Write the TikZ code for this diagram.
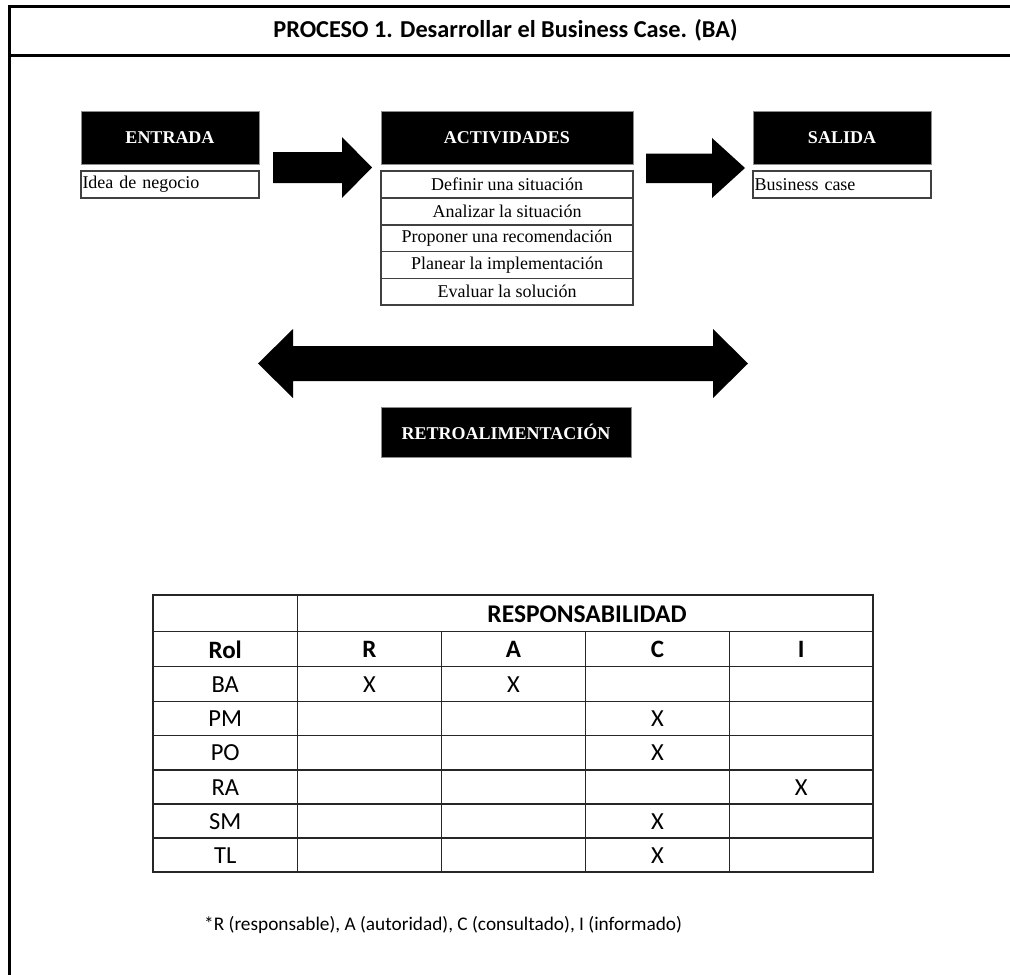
\documentclass[tikz,border=0pt]{standalone}
\usepackage{fontspec}
\setmainfont{Liberation Serif}
\newfontfamily\calfont{Carlito}
\begin{document}
\begin{tikzpicture}[x=1pt,y=-1pt,
  hdrbox/.style={fill=black, draw=black!45, line width=0.8pt, text=white,
    font=\bfseries\fontsize{18}{21}\selectfont, inner sep=0pt, outer sep=0pt,
    minimum height=53pt},
  rowbox/.style={fill=white, draw=black!75, line width=1.5pt, inner sep=0pt,
    outer sep=0pt, font=\fontsize{18}{21}\selectfont, minimum height=26.8pt},
  blockarrow/.style={fill=black},
  frame/.style={line width=3pt, line join=miter},
  grid/.style={line width=1.4pt, draw=black!85},
  th/.style={font=\calfont\bfseries\fontsize{25}{28}\selectfont, inner sep=0pt},
  td/.style={font=\calfont\fontsize{24.5}{28}\selectfont, inner sep=0pt}]
\useasboundingbox (0,0) rectangle (1010,975);

% page frame and title band
\draw[frame] (1010,6.5) -- (9.5,6.5) -- (9.5,975);
\draw[frame] (9.5,55) -- (1010,55);
\node[font=\calfont\bfseries\fontsize{24.3}{28}\selectfont] (title) at (505.5,30.5)
  {PROCESO 1. Desarrollar el Business Case. (BA)};

% input column
\node[hdrbox, minimum width=178pt] (entrada) at (170,137.5) {ENTRADA};
\node[rowbox, minimum width=178pt, text width=175pt, align=left] (idea) at (170,184.5)
  {Idea de negocio};

% activities column
\node[hdrbox, minimum width=252pt] (actividades) at (507,137.5) {ACTIVIDADES};
\node[rowbox, minimum width=252pt] (act1) at (507,184.6) {Definir una situación};
\node[rowbox, minimum width=252pt] (act2) at (507,211.4) {Analizar la situación};
\node[rowbox, minimum width=252pt] (act3) at (507,238.2) {Proponer una recomendación};
\node[rowbox, minimum width=252pt] (act4) at (507,265.0) {Planear la implementación};
\node[rowbox, minimum width=252pt] (act5) at (507,291.8) {Evaluar la solución};

% output column
\node[hdrbox, minimum width=178pt] (salida) at (842,137.5) {SALIDA};
\node[rowbox, minimum width=178pt, text width=175pt, align=left] (bcase) at (842,184.5)
  {Business case};

% block arrows
\fill[blockarrow] (273,152) -- (342,152) -- (342,137) -- (372,167.5) -- (342,198)
  -- (342,183) -- (273,183) -- cycle;
\fill[blockarrow] (646,153.5) -- (712,153.5) -- (712,138) -- (745,168) -- (712,198)
  -- (712,183) -- (646,183) -- cycle;
\fill[blockarrow] (258,363.5) -- (293,329) -- (293,346) -- (713,346) -- (713,329)
  -- (748,363.5) -- (713,398) -- (713,381) -- (293,381) -- (293,398) -- cycle;

% feedback label
\node[hdrbox, minimum width=250pt, minimum height=50pt] (retro) at (506,432)
  {RETROALIMENTACIÓN};

% responsibility table
\draw[grid] (153,595) rectangle (873,872);
\foreach \y in {631.5,666.5,701.5,735.5,770,804,838}
  \draw[grid] (153,\y) -- (873,\y);
\draw[grid] (297.5,595) -- (297.5,872);
\foreach \x in {441.5,585.5,729.5}
  \draw[grid] (\x,631.5) -- (\x,872);

\node[th, font=\calfont\bfseries\fontsize{25.5}{28}\selectfont] (resp) at (587,614)
  {RESPONSABILIDAD};
\node[th] (hrol) at (225.25,649.5) {Rol};
\node[th] (hr) at (369.5,649.5) {R};
\node[th] (ha) at (513.5,649.5) {A};
\node[th] (hc) at (657.5,649.5) {C};
\node[th] (hi) at (801.25,649.5) {I};

\node[td] (rba) at (225.25,684.5) {BA};
\node[td] (rpm) at (225.25,719) {PM};
\node[td] (rpo) at (225.25,753) {PO};
\node[td] (rra) at (225.25,787.5) {RA};
\node[td] (rsm) at (225.25,821.5) {SM};
\node[td] (rtl) at (225.25,855.5) {TL};

\node[td] (xbar) at (369.5,684.5) {X};
\node[td] (xbaa) at (513.5,684.5) {X};
\node[td] (xpmc) at (657.5,719) {X};
\node[td] (xpoc) at (657.5,753) {X};
\node[td] (xrai) at (801.25,787.5) {X};
\node[td] (xsmc) at (657.5,821.5) {X};
\node[td] (xtlc) at (657.5,855.5) {X};

% legend
\node[anchor=west, inner sep=0pt, font=\calfont\fontsize{19.3}{22}\selectfont] (legend)
  at (204,925) {*R (responsable), A (autoridad), C (consultado), I (informado)};
\end{tikzpicture}
\end{document}
